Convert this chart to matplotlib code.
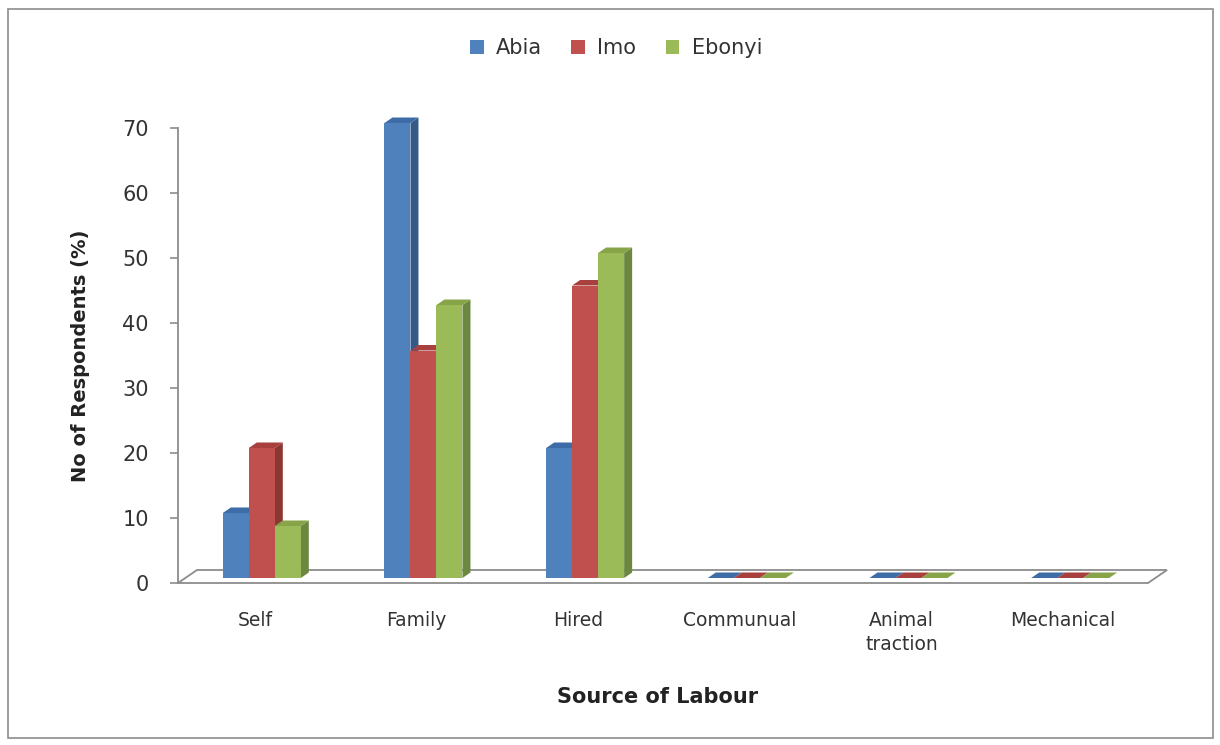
import matplotlib
matplotlib.use("Agg")
import matplotlib.pyplot as plt
from matplotlib.patches import Polygon, Rectangle

categories = ["Self", "Family", "Hired", "Communual", "Animal\ntraction", "Mechanical"]
series_names = ["Abia", "Imo", "Ebonyi"]
abia = [10, 70, 20, 0, 0, 0]
imo = [20, 35, 45, 0, 0, 0]
ebonyi = [8, 42, 50, 0, 0, 0]
yticks = [0, 10, 20, 30, 40, 50, 60, 70]

front_colors = ["#4F81BD", "#C0504D", "#9BBB59"]
top_colors = ["#3E6CA6", "#A8413E", "#87A548"]
side_colors = ["#365A87", "#8A3734", "#6C8740"]

W, H = 1220, 745
fig = plt.figure(figsize=(W / 100, H / 100), dpi=100)
fig.patch.set_facecolor("white")

# axes box in pixels: y-axis at x=178, value 0 at y=583, value 70 at y=128
ax_l, ax_r, ax_b, ax_t = 178, 1144, H - 583, H - 128
ax = fig.add_axes([ax_l / W, ax_b / H, (ax_r - ax_l) / W, (ax_t - ax_b) / H])
x0, x1 = -0.475, 5.5
ax.set_xlim(x0, x1)
ax.set_ylim(0, 70)

px_x = (ax_r - ax_l) / (x1 - x0)   # pixels per category unit
px_y = (ax_t - ax_b) / 70.0         # pixels per value unit


def pt(x, y, dx=0.0, dy=0.0):
    # data point shifted by a pixel offset
    return (x + dx / px_x, y + dy / px_y)


# floor of the 3-D plot area
floor_depth = (19, 13)
floor = Polygon([pt(x0, 0), pt(x1, 0, 4, 0), pt(x1, 0, 4 + floor_depth[0], floor_depth[1]),
                 pt(x0, 0, floor_depth[0], floor_depth[1])],
                closed=True, facecolor="white", edgecolor="#8C8C8C", lw=1.3,
                clip_on=False, zorder=1)
ax.add_patch(floor)

# 3-D columns
bar_w = 26 / px_x
shift = (7, 5)      # front face sits part way into the floor
depth = (8, 5.5)    # visible depth of each column
series = [abia, imo, ebonyi]
for ci in range(len(categories)):
    for si, vals in enumerate(series):
        v = vals[ci]
        xl = ci - 1.5 * bar_w + si * bar_w
        xr = xl + bar_w
        sx, sy = shift
        dx, dy = depth
        side = Polygon([pt(xr, 0, sx, sy), pt(xr, 0, sx + dx, sy + dy),
                        pt(xr, v, sx + dx, sy + dy), pt(xr, v, sx, sy)],
                       closed=True, facecolor=side_colors[si], edgecolor="none",
                       clip_on=False, zorder=2 + si)
        top = Polygon([pt(xl, v, sx, sy), pt(xr, v, sx, sy), pt(xr, v, sx + dx, sy + dy),
                       pt(xl, v, sx + dx, sy + dy)],
                      closed=True, facecolor=top_colors[si], edgecolor="none",
                      clip_on=False, zorder=2 + si)
        front = Polygon([pt(xl, 0, sx, sy), pt(xr, 0, sx, sy), pt(xr, v, sx, sy), pt(xl, v, sx, sy)],
                        closed=True, facecolor=front_colors[si], edgecolor="none",
                        clip_on=False, zorder=2 + si)
        ax.add_patch(side)
        ax.add_patch(top)
        ax.add_patch(front)

for s in ["top", "right", "bottom"]:
    ax.spines[s].set_visible(False)
ax.spines["left"].set_color("#8C8C8C")
ax.spines["left"].set_linewidth(1.3)
ax.patch.set_alpha(0)

ax.set_yticks(yticks)
ax.set_yticklabels([str(t) for t in yticks], fontsize=15, color="#333333")
ax.tick_params(axis="y", direction="out", length=6, width=1.2, color="#8C8C8C", pad=15)
ax.set_xticks(range(len(categories)))
ax.set_xticklabels(categories, fontsize=13.5, color="#333333", linespacing=1.35, va="top")
ax.tick_params(axis="x", length=0, pad=20)

fig.text(81 / W, 1 - 356 / H, "No of Respondents (%)", rotation=90, ha="center", va="center",
         fontsize=14, fontweight="bold", color="#222222")
fig.text(658 / W, 1 - 697 / H, "Source of Labour", ha="center", va="center",
         fontsize=15, fontweight="bold", color="#222222")

# legend across the top
handles = [Rectangle((0, 0), 1, 1, facecolor=c, edgecolor="none") for c in front_colors]
fig.legend(handles, series_names, loc="center", bbox_to_anchor=(616 / W, 1 - 48 / H),
           ncol=3, frameon=False, fontsize=15, handlelength=0.65, handleheight=0.65,
           handletextpad=0.6, columnspacing=1.4, labelcolor="#333333")

# chart border
fig.patches.append(Rectangle((8 / W, 1 - 738 / H), (1213 - 8) / W, (738 - 9) / H,
                             transform=fig.transFigure, facecolor="none",
                             edgecolor="#8C8C8C", lw=1.2))

fig.savefig("out.png", dpi=100)
